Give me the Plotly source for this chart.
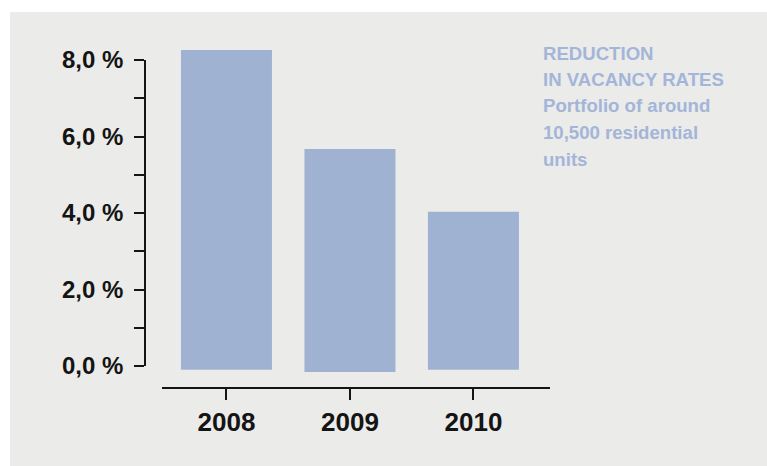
import plotly.graph_objects as go

# ---- data ----
years = [2008, 2009, 2010]
year_labels = ["2008", "2009", "2010"]
vacancy_top = [8.26, 5.67, 4.03]          # % (top of bar)
vacancy_base = [-0.10, -0.16, -0.10]      # bars start slightly below zero in the original
y_tickvals = [0, 1, 2, 3, 4, 5, 6, 7, 8]
y_ticktext = ["0,0 %", "", "2,0 %", "", "4,0 %", "", "6,0 %", "", "8,0 %"]
note_lines = ["REDUCTION", "IN VACANCY RATES", "Portfolio of around", "10,500 residential", "units"]

W, H = 767, 466
def fx(px):
    return px / W
def fy(py):
    return 1 - py / H

BAR = "#a0b2d2"
TXT = "#a3b5d8"
INK = "#141414"
BG = "#ebebe9"
FONT = "Liberation Sans"

x_idx = list(range(len(years)))
lengths = [t - b for t, b in zip(vacancy_top, vacancy_base)]

fig = go.Figure()
fig.add_trace(go.Bar(x=x_idx, y=lengths, base=vacancy_base, width=0.737,
                     marker=dict(color=BAR, line=dict(width=0)),
                     xaxis="x", yaxis="y", showlegend=False, hoverinfo="skip"))
# empty trace to host the visible value axis
fig.add_trace(go.Scatter(x=[None], y=[None], xaxis="x2", yaxis="y2",
                         showlegend=False, hoverinfo="skip"))

px_per_unit = (366 - 60) / 8.0
y_lo = -(387 - 366) / px_per_unit
y_hi = (366 - 30) / px_per_unit

fig.update_layout(
    width=W, height=H, autosize=False,
    margin=dict(l=0, r=0, t=0, b=0, pad=0, autoexpand=False),
    paper_bgcolor="white",
    plot_bgcolor="rgba(0,0,0,0)",
    showlegend=False,
    xaxis=dict(domain=[fx(162), fx(550)], range=[-0.522, 2.62], anchor="y",
               tickvals=x_idx, ticktext=year_labels,
               showline=True, linecolor=INK, linewidth=1.6,
               ticks="outside", ticklen=11, tickwidth=1.6, tickcolor=INK,
               showgrid=False, zeroline=False, automargin=False,
               tickfont=dict(family=FONT, size=26, color=INK, weight="bold"),
               fixedrange=True),
    yaxis=dict(domain=[fy(387), fy(30)], range=[y_lo, y_hi], anchor="x",
               visible=False, automargin=False, fixedrange=True),
    xaxis2=dict(domain=[fx(146), fx(550)], range=[0, 1], anchor="y2",
                visible=False, automargin=False),
    yaxis2=dict(domain=[fy(366), fy(60)], range=[0, 8], anchor="x2",
                tickvals=y_tickvals, ticktext=y_ticktext,
                showline=True, linecolor=INK, linewidth=1.6,
                ticks="outside", ticklen=10, tickwidth=1.6, tickcolor=INK,
                showgrid=False, zeroline=False, automargin=False,
                ticklabelstandoff=6,
                tickfont=dict(family=FONT, size=24, color=INK, weight="bold"),
                fixedrange=True),
    shapes=[dict(type="rect", xref="paper", yref="paper",
                 x0=fx(10), x1=1, y0=0, y1=fy(12),
                 fillcolor=BG, line=dict(width=0), layer="below")],
)

baselines = [59.3, 85.5, 112, 138.5, 165]
for line, bl in zip(note_lines, baselines):
    fig.add_annotation(text=line, xref="paper", yref="paper",
                       x=fx(541), y=fy(bl - 6), xanchor="left", yanchor="middle",
                       showarrow=False, align="left",
                       font=dict(family=FONT, size=18.6, color=TXT, weight="bold"))

fig.write_html("out.html",
               config={"displayModeBar": False, "responsive": False},
               post_script="document.body.style.margin='0';document.body.style.overflow='hidden';")
